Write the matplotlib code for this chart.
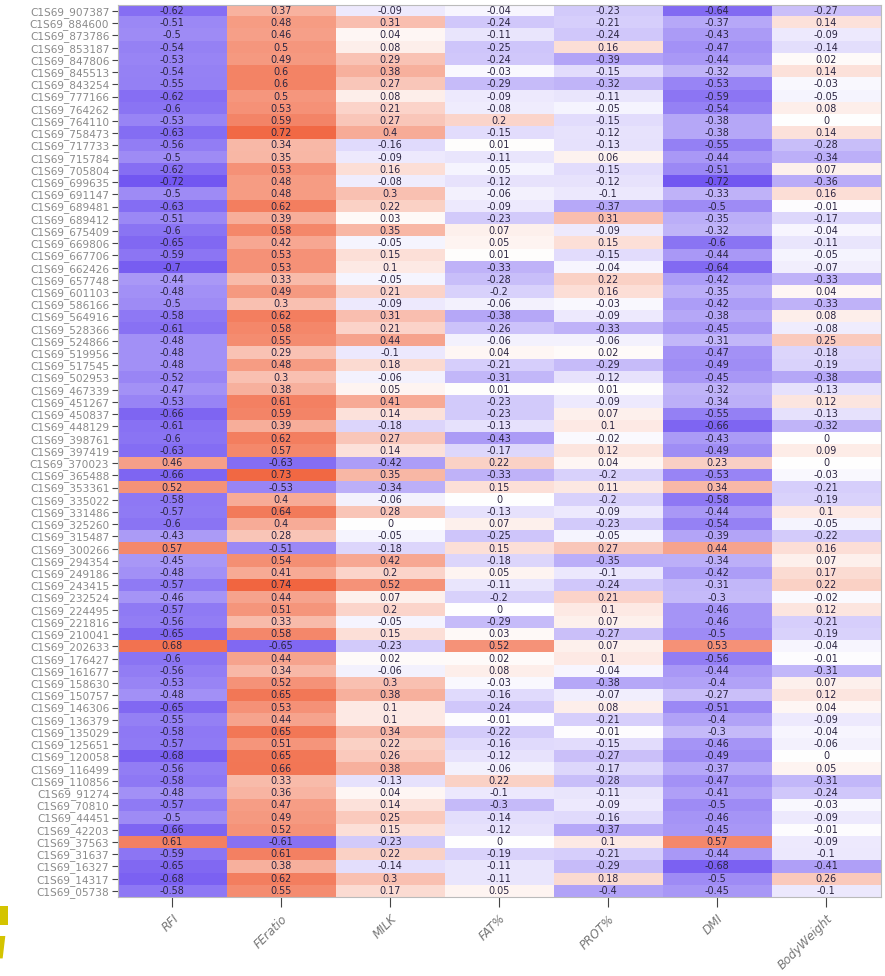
import numpy as np
import matplotlib
matplotlib.use("Agg")
import matplotlib.pyplot as plt
from matplotlib.colors import LinearSegmentedColormap
from matplotlib.patches import Polygon

traits = ["RFI", "FEratio", "MILK", "FAT%", "PROT%", "DMI", "BodyWeight"]

snps = ["C1S69_907387", "C1S69_884600", "C1S69_873786", "C1S69_853187", "C1S69_847806",
        "C1S69_845513", "C1S69_843254", "C1S69_777166", "C1S69_764262", "C1S69_764110",
        "C1S69_758473", "C1S69_717733", "C1S69_715784", "C1S69_705804", "C1S69_699635",
        "C1S69_691147", "C1S69_689481", "C1S69_689412", "C1S69_675409", "C1S69_669806",
        "C1S69_667706", "C1S69_662426", "C1S69_657748", "C1S69_601103", "C1S69_586166",
        "C1S69_564916", "C1S69_528366", "C1S69_524866", "C1S69_519956", "C1S69_517545",
        "C1S69_502953", "C1S69_467339", "C1S69_451267", "C1S69_450837", "C1S69_448129",
        "C1S69_398761", "C1S69_397419", "C1S69_370023", "C1S69_365488", "C1S69_353361",
        "C1S69_335022", "C1S69_331486", "C1S69_325260", "C1S69_315487", "C1S69_300266",
        "C1S69_294354", "C1S69_249186", "C1S69_243415", "C1S69_232524", "C1S69_224495",
        "C1S69_221816", "C1S69_210041", "C1S69_202633", "C1S69_176427", "C1S69_161677",
        "C1S69_158630", "C1S69_150757", "C1S69_146306", "C1S69_136379", "C1S69_135029",
        "C1S69_125651", "C1S69_120058", "C1S69_116499", "C1S69_110856", "C1S69_91274",
        "C1S69_70810", "C1S69_44451", "C1S69_42203", "C1S69_37563", "C1S69_31637",
        "C1S69_16327", "C1S69_14317", "C1S69_05738"]

rfi = [-0.62, -0.51, -0.5, -0.54, -0.53, -0.54, -0.55, -0.62, -0.6, -0.53,
       -0.63, -0.56, -0.5, -0.62, -0.72, -0.5, -0.63, -0.51, -0.6, -0.65,
       -0.59, -0.7, -0.44, -0.48, -0.5, -0.58, -0.61, -0.48, -0.48, -0.48,
       -0.52, -0.47, -0.53, -0.66, -0.61, -0.6, -0.63, 0.46, -0.66, 0.52,
       -0.58, -0.57, -0.6, -0.43, 0.57, -0.45, -0.48, -0.57, -0.46, -0.57,
       -0.56, -0.65, 0.68, -0.6, -0.56, -0.53, -0.48, -0.65, -0.55, -0.58,
       -0.57, -0.68, -0.56, -0.58, -0.48, -0.57, -0.5, -0.66, 0.61, -0.59,
       -0.65, -0.68, -0.58]
feratio = [0.37, 0.48, 0.46, 0.5, 0.49, 0.6, 0.6, 0.5, 0.53, 0.59,
           0.72, 0.34, 0.35, 0.53, 0.48, 0.48, 0.62, 0.39, 0.58, 0.42,
           0.53, 0.53, 0.33, 0.49, 0.3, 0.62, 0.58, 0.55, 0.29, 0.48,
           0.3, 0.38, 0.61, 0.59, 0.39, 0.62, 0.57, -0.63, 0.73, -0.53,
           0.4, 0.64, 0.4, 0.28, -0.51, 0.54, 0.41, 0.74, 0.44, 0.51,
           0.33, 0.58, -0.65, 0.44, 0.34, 0.52, 0.65, 0.53, 0.44, 0.65,
           0.51, 0.65, 0.66, 0.33, 0.36, 0.47, 0.49, 0.52, -0.61, 0.61,
           0.38, 0.62, 0.55]
milk = [-0.09, 0.31, 0.04, 0.08, 0.29, 0.38, 0.27, 0.08, 0.21, 0.27,
        0.4, -0.16, -0.09, 0.16, -0.08, 0.3, 0.22, 0.03, 0.35, -0.05,
        0.15, 0.1, -0.05, 0.21, -0.09, 0.31, 0.21, 0.44, -0.1, 0.18,
        -0.06, 0.05, 0.41, 0.14, -0.18, 0.27, 0.14, -0.42, 0.35, -0.34,
        -0.06, 0.28, 0.0, -0.05, -0.18, 0.42, 0.2, 0.52, 0.07, 0.2,
        -0.05, 0.15, -0.23, 0.02, -0.06, 0.3, 0.38, 0.1, 0.1, 0.34,
        0.22, 0.26, 0.38, -0.13, 0.04, 0.14, 0.25, 0.15, -0.23, 0.22,
        -0.14, 0.3, 0.17]
fat = [-0.04, -0.24, -0.11, -0.25, -0.24, -0.03, -0.29, -0.09, -0.08, 0.2,
       -0.15, 0.01, -0.11, -0.05, -0.12, -0.06, -0.09, -0.23, 0.07, 0.05,
       0.01, -0.33, -0.28, -0.2, -0.06, -0.38, -0.26, -0.06, 0.04, -0.21,
       -0.31, 0.01, -0.23, -0.23, -0.13, -0.43, -0.17, 0.22, -0.33, 0.15,
       0.0, -0.13, 0.07, -0.25, 0.15, -0.18, 0.05, -0.11, -0.2, 0.0,
       -0.29, 0.03, 0.52, 0.02, 0.08, -0.03, -0.16, -0.24, -0.01, -0.22,
       -0.16, -0.12, -0.06, 0.22, -0.1, -0.3, -0.14, -0.12, 0.0, -0.19,
       -0.11, -0.11, 0.05]
prot = [-0.23, -0.21, -0.24, 0.16, -0.39, -0.15, -0.32, -0.11, -0.05, -0.15,
        -0.12, -0.13, 0.06, -0.15, -0.12, -0.1, -0.37, 0.31, -0.09, 0.15,
        -0.15, -0.04, 0.22, 0.16, -0.03, -0.09, -0.33, -0.06, 0.02, -0.29,
        -0.12, 0.01, -0.09, 0.07, 0.1, -0.02, 0.12, 0.04, -0.2, 0.11,
        -0.2, -0.09, -0.23, -0.05, 0.27, -0.35, -0.1, -0.24, 0.21, 0.1,
        0.07, -0.27, 0.07, 0.1, -0.04, -0.38, -0.07, 0.08, -0.21, -0.01,
        -0.15, -0.27, -0.17, -0.28, -0.11, -0.09, -0.16, -0.37, 0.1, -0.21,
        -0.29, 0.18, -0.4]
dmi = [-0.64, -0.37, -0.43, -0.47, -0.44, -0.32, -0.53, -0.59, -0.54, -0.38,
       -0.38, -0.55, -0.44, -0.51, -0.72, -0.33, -0.5, -0.35, -0.32, -0.6,
       -0.44, -0.64, -0.42, -0.35, -0.42, -0.38, -0.45, -0.31, -0.47, -0.49,
       -0.45, -0.32, -0.34, -0.55, -0.66, -0.43, -0.49, 0.23, -0.53, 0.34,
       -0.58, -0.44, -0.54, -0.39, 0.44, -0.34, -0.42, -0.31, -0.3, -0.46,
       -0.46, -0.5, 0.53, -0.56, -0.44, -0.4, -0.27, -0.51, -0.4, -0.3,
       -0.46, -0.49, -0.37, -0.47, -0.41, -0.5, -0.46, -0.45, 0.57, -0.44,
       -0.68, -0.5, -0.45]
bodyweight = [-0.27, 0.14, -0.09, -0.14, 0.02, 0.14, -0.03, -0.05, 0.08, 0.0,
              0.14, -0.28, -0.34, 0.07, -0.36, 0.16, -0.01, -0.17, -0.04, -0.11,
              -0.05, -0.07, -0.33, 0.04, -0.33, 0.08, -0.08, 0.25, -0.18, -0.19,
              -0.38, -0.13, 0.12, -0.13, -0.32, 0.0, 0.09, 0.0, -0.03, -0.21,
              -0.19, 0.1, -0.05, -0.22, 0.16, 0.07, 0.17, 0.22, -0.02, 0.12,
              -0.21, -0.19, -0.04, -0.01, -0.31, 0.07, 0.12, 0.04, -0.09, -0.04,
              -0.06, 0.0, 0.05, -0.31, -0.24, -0.03, -0.09, -0.01, -0.09, -0.1,
              -0.41, 0.26, -0.1]

corr = np.column_stack([rfi, feratio, milk, fat, prot, dmi, bodyweight])
n_rows, n_cols = corr.shape

cmap = LinearSegmentedColormap.from_list(
    "purple_white_orange", ["#6446f0", "#ffffff", "#f05a32"])

fig = plt.figure(figsize=(8.85, 9.76), dpi=100)
ax = fig.add_axes([0.133, 0.081, 0.862, 0.914])

ax.imshow(corr, cmap=cmap, vmin=-0.8, vmax=0.8, aspect="auto",
          interpolation="nearest")

for i in range(n_rows):
    for j in range(n_cols):
        v = corr[i, j]
        txt = "0" if v == 0 else f"{v:g}"
        ax.text(j, i, txt, ha="center", va="center", fontsize=6.9,
                color="#2a2440")

ax.set_xticks(range(n_cols))
ax.set_xticklabels(traits, rotation=45, ha="right", rotation_mode="anchor",
                   fontsize=8.5, color="#777777", style="italic")
ax.set_yticks(range(n_rows))
ax.set_yticklabels(snps, fontsize=7.6, color="#8a8a8a")
ax.tick_params(axis="y", length=4, width=0.8, color="#444444", pad=2)
ax.tick_params(axis="x", length=7, width=0.8, color="#444444", pad=4)
for side, sp in ax.spines.items():
    sp.set_color("#bbbbbb")
    sp.set_linewidth(0.8)

# stray yellow marks at the lower-left edge
fig.patches.append(Polygon([[0, 0.052], [0.009, 0.052], [0.009, 0.072], [0, 0.072]],
                           closed=True, transform=fig.transFigure,
                           facecolor="#d4c400", edgecolor="none"))
fig.patches.append(Polygon([[0, 0.041], [0.006, 0.041], [0.003, 0.018], [0, 0.018]],
                           closed=True, transform=fig.transFigure,
                           facecolor="#d4c400", edgecolor="none"))

fig.savefig("out.png", dpi=100)
